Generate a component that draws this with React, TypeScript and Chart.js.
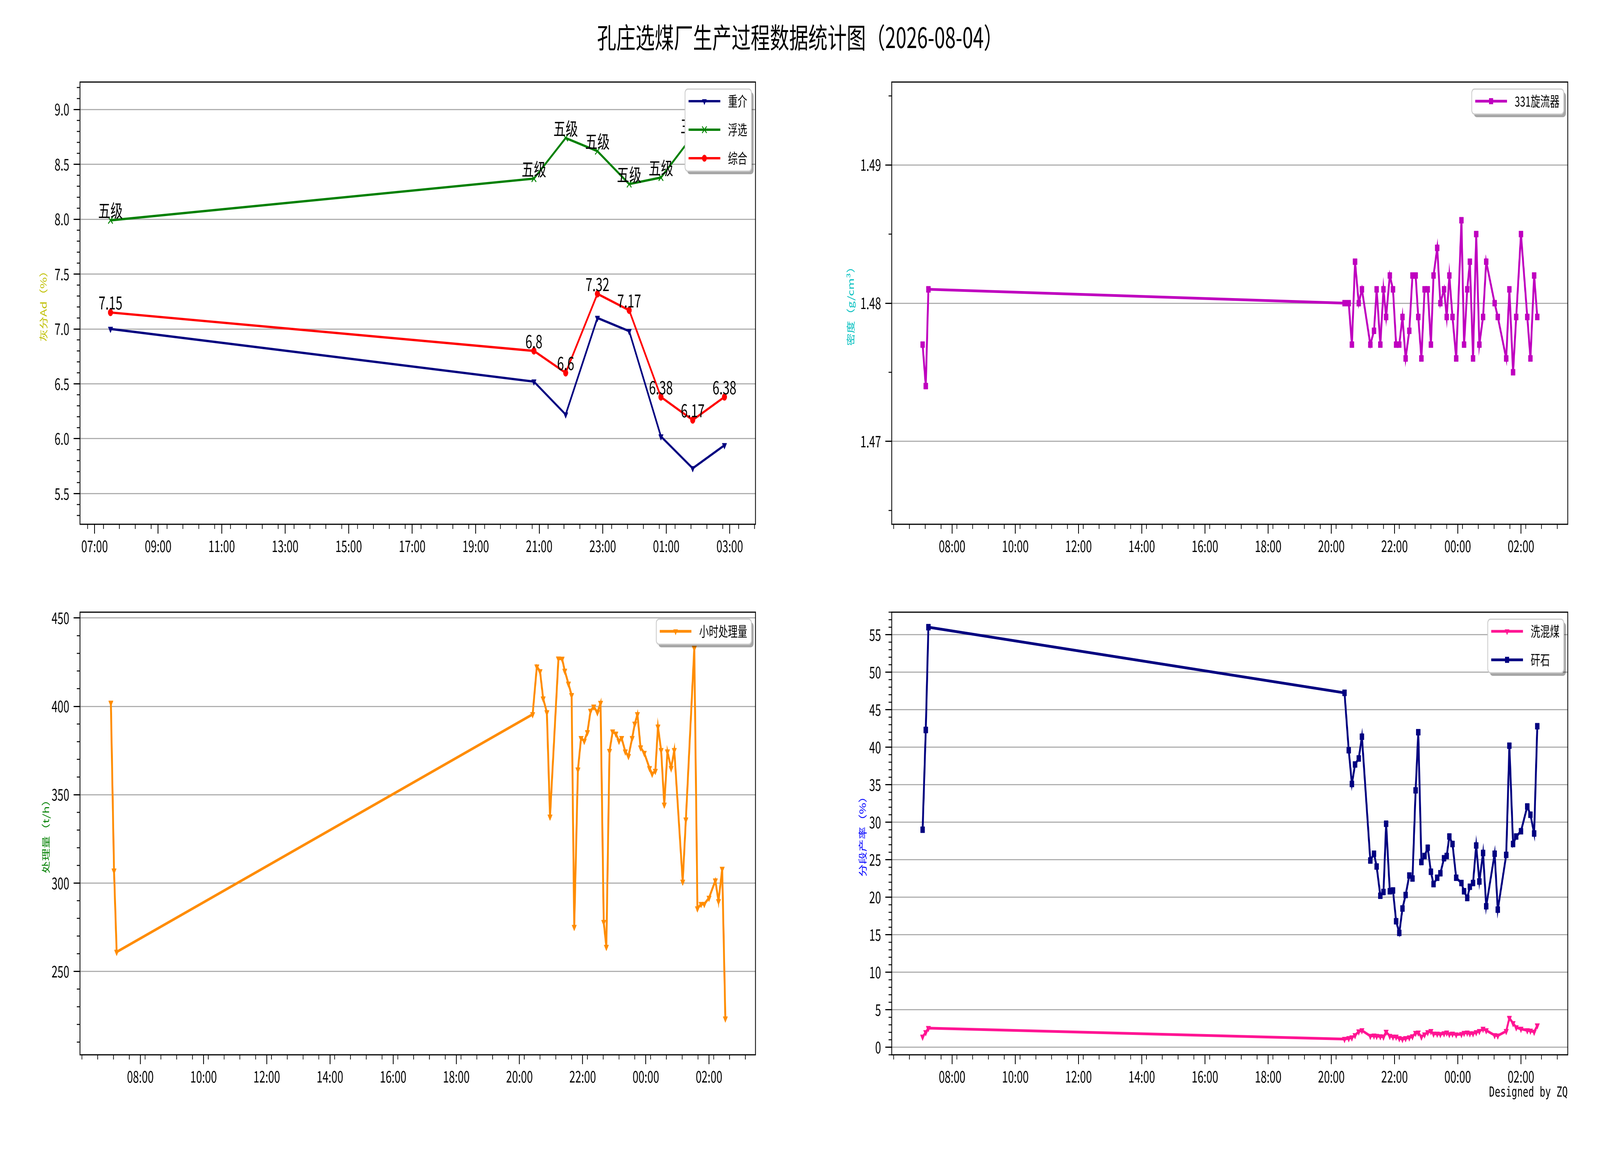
import React, { useEffect, useRef } from 'react';
import { Chart, registerables } from 'chart.js';

Chart.register(...registerables);

const FONT = '"Noto Sans CJK SC", "DejaVu Sans", sans-serif';
const MONO = '"DejaVu Sans Mono", "Liberation Mono", monospace';

const TITLE = '孔庄选煤厂生产过程数据统计图（2026-08-04）';
const CREDIT = 'Designed by ZQ';

// ---------- 灰分 (ash) ----------
const ashTimes = ['07:30', '20:50', '21:50', '22:50', '23:50', '00:50', '01:50', '02:50'];
const heavyMedium = [7.0, 6.52, 6.22, 7.1, 6.98, 6.02, 5.73, 5.94];
const flotation = [7.99, 8.37, 8.74, 8.62, 8.32, 8.38, 8.76, 8.9];
const flotationGrade = ['五级', '五级', '五级', '五级', '五级', '五级', '三级', '三级'];
const combined = [7.15, 6.8, 6.6, 7.32, 7.17, 6.38, 6.17, 6.38];
const ashXTickLabels = ['07:00', '09:00', '11:00', '13:00', '15:00', '17:00', '19:00', '21:00', '23:00', '01:00', '03:00'];
const ashYTicks = [5.5, 6.0, 6.5, 7.0, 7.5, 8.0, 8.5, 9.0];

// ---------- process data (density / throughput / yields) ----------
const processTimes = [
  '07:04', '07:10', '07:15',
  '20:25', '20:33', '20:39', '20:45', '20:52', '20:58',
  '21:14', '21:21', '21:26', '21:33', '21:39', '21:44', '21:51', '21:57',
  '22:03', '22:09', '22:15', '22:21', '22:28', '22:34', '22:40', '22:45', '22:51', '22:57',
  '23:03', '23:09', '23:14', '23:21', '23:27', '23:34', '23:39', '23:44', '23:50', '23:57',
  '00:07', '00:12', '00:18', '00:23', '00:29', '00:35', '00:41', '00:48', '00:54',
  '01:10', '01:16', '01:32', '01:38', '01:45', '01:51',
  '02:00', '02:12', '02:18', '02:25', '02:31',
];
const cycloneDensity = [
  1.477, 1.474, 1.481,
  1.48, 1.48, 1.477, 1.483, 1.48, 1.481,
  1.477, 1.478, 1.481, 1.477, 1.481, 1.479, 1.482, 1.481,
  1.477, 1.477, 1.479, 1.476, 1.478, 1.482, 1.482, 1.479, 1.476, 1.481,
  1.481, 1.477, 1.482, 1.484, 1.48, 1.481, 1.479, 1.482, 1.479, 1.476,
  1.486, 1.477, 1.481, 1.483, 1.476, 1.485, 1.477, 1.479, 1.483,
  1.48, 1.479, 1.476, 1.481, 1.475, 1.479,
  1.485, 1.479, 1.476, 1.482, 1.479,
];
const hourlyThroughput = [
  402, 307, 261,
  395.5, 422.5, 419.8, 404.4, 396.6, 337.5,
  427.0, 426.9, 420.1, 412.8, 406.3, 275.1, 364.2, 382.0,
  380.4, 385.3, 397.4, 399.8, 396.6, 401.9, 277.9, 263.8, 374.7, 385.7,
  384.5, 380.4, 382.0, 374.4, 371.8, 382.0, 390.1, 395.5, 376.7, 373.6,
  365.0, 361.8, 363.4, 388.5, 375.2, 344.3, 374.4, 365.0, 375.2,
  300.7, 335.9, 433.0, 285.6, 288.1, 288.1,
  291.6, 301.4, 289.7, 308.0, 223.3,
];
const middlingsYield = [
  1.4, 2.0, 2.55,
  1.1, 1.2, 1.3, 1.6, 2.1, 2.25,
  1.5, 1.55, 1.5, 1.45, 1.4, 2.05, 1.5, 1.4,
  1.4, 1.2, 1.1, 1.2, 1.3, 1.45, 1.9, 1.95, 1.4, 1.7,
  2.0, 2.15, 1.8, 1.8, 1.75, 1.85, 1.95, 1.75, 1.8, 1.7,
  1.75, 1.9, 1.95, 1.85, 1.85, 2.0, 2.15, 2.45, 2.25,
  1.6, 1.55, 2.15, 3.9, 3.2, 2.65,
  2.45, 2.25, 2.2, 2.05, 2.9,
];
const gangueYield = [
  29.0, 42.3, 56.0,
  47.25, 39.6, 35.1, 37.7, 38.5, 41.4,
  24.9, 25.8, 24.1, 20.2, 20.7, 29.8, 20.8, 20.9,
  16.8, 15.25, 18.5, 20.3, 22.9, 22.5, 34.25, 42.0, 24.7, 25.5,
  26.6, 23.4, 21.75, 22.6, 23.2, 25.2, 25.5, 28.1, 27.1, 22.6,
  21.9, 20.8, 19.9, 21.4, 21.9, 26.9, 22.1, 25.9, 18.8,
  25.8, 18.35, 25.65, 40.2, 27.1, 28.1,
  28.8, 32.1, 31.0, 28.5, 42.8,
];
const processXTickLabels = ['08:00', '10:00', '12:00', '14:00', '16:00', '18:00', '20:00', '22:00', '00:00', '02:00'];
const densityYTicks = [1.47, 1.48, 1.49];
const throughputYTicks = [250, 300, 350, 400, 450];
const yieldYTicks = [0, 5, 10, 15, 20, 25, 30, 35, 40, 45, 50, 55];

// ---------- helpers ----------
function hours(t: string): number {
  const [h, m] = t.split(':').map(Number);
  const v = h + m / 60;
  return v < 6 ? v + 24 : v;
}
function pts(times: string[], values: number[]) {
  return values.map((y, i) => ({ x: hours(times[i]), y }));
}
function hhmm(v: number): string {
  const h = ((Math.round(v) % 24) + 24) % 24;
  return String(h).padStart(2, '0') + ':00';
}
function xMinorTicks(min: number, max: number, offs: number[]): number[] {
  const out: number[] = [];
  for (let h = Math.floor(min); h <= Math.ceil(max); h++) {
    offs.forEach((o) => {
      const v = h + o;
      if (v >= min && v <= max) out.push(v);
    });
  }
  return out;
}
function yMinorTicks(min: number, max: number, step: number, majors: number[]): number[] {
  const out: number[] = [];
  const start = Math.ceil(min / step - 1e-9);
  const end = Math.floor(max / step + 1e-9);
  for (let k = start; k <= end; k++) {
    const v = +(k * step).toFixed(6);
    if (!majors.some((m) => Math.abs(m - v) < step / 10)) out.push(v);
  }
  return out;
}

function drawMarker(ctx: CanvasRenderingContext2D, ds: any, x: number, y: number) {
  const r = ds.pointRadius;
  const c = ds.borderColor;
  ctx.save();
  ctx.fillStyle = c;
  ctx.strokeStyle = c;
  ctx.beginPath();
  if (ds.pointStyle === 'circle') {
    ctx.arc(x, y, r, 0, Math.PI * 2);
    ctx.fill();
  } else if (ds.pointStyle === 'rect') {
    const s = r * Math.SQRT1_2;
    ctx.fillRect(x - s, y - s, 2 * s, 2 * s);
  } else if (ds.pointStyle === 'triangle') {
    ctx.moveTo(x, y + r);
    ctx.lineTo(x - 0.866 * r, y - 0.5 * r);
    ctx.lineTo(x + 0.866 * r, y - 0.5 * r);
    ctx.closePath();
    ctx.fill();
  } else if (ds.pointStyle === 'crossRot') {
    const s = r * Math.SQRT1_2;
    ctx.lineWidth = ds.pointBorderWidth;
    ctx.moveTo(x - s, y - s);
    ctx.lineTo(x + s, y + s);
    ctx.moveTo(x + s, y - s);
    ctx.lineTo(x - s, y + s);
    ctx.stroke();
  }
  ctx.restore();
}

const decor = {
  id: 'decor',
  afterDatasetsDraw(chart: any) {
    const ctx = chart.ctx;
    chart.data.datasets.forEach((ds: any, i: number) => {
      if (!ds.pointLabels) return;
      const meta = chart.getDatasetMeta(i);
      ctx.save();
      ctx.font = `46px ${FONT}`;
      ctx.fillStyle = '#000';
      ctx.textAlign = 'center';
      ctx.textBaseline = 'bottom';
      meta.data.forEach((el: any, j: number) => ctx.fillText(ds.pointLabels[j], el.x, el.y - 2));
      ctx.restore();
    });
  },
  afterDraw(chart: any, _args: any, opts: any) {
    const { ctx, chartArea: a, scales } = chart;
    ctx.save();
    // full frame
    ctx.strokeStyle = '#000';
    ctx.lineWidth = 3;
    ctx.strokeRect(a.left, a.top, a.right - a.left, a.bottom - a.top);
    // minor ticks
    ctx.lineWidth = 2.5;
    ctx.beginPath();
    (opts.xMinors || []).forEach((v: number) => {
      const px = scales.x.getPixelForValue(v);
      ctx.moveTo(px, a.bottom);
      ctx.lineTo(px, a.bottom + 12);
    });
    (opts.yMinors || []).forEach((v: number) => {
      const py = scales.y.getPixelForValue(v);
      ctx.moveTo(a.left - 12, py);
      ctx.lineTo(a.left, py);
    });
    ctx.stroke();
    // legend inside the plot, upper right, with shadow
    const dss = chart.data.datasets;
    ctx.font = `36px ${FONT}`;
    const textW = Math.max(...dss.map((d: any) => ctx.measureText(d.label).width));
    const boxW = textW + 177;
    const boxH = 64 + 73 * (dss.length - 1);
    const boxR = a.right - 15;
    const boxL = boxR - boxW;
    const boxT = a.top + 18;
    const rr = (x: number, y: number, w: number, h: number) => {
      ctx.beginPath();
      if ((ctx as any).roundRect) (ctx as any).roundRect(x, y, w, h, 10);
      else ctx.rect(x, y, w, h);
    };
    rr(boxL + 8, boxT + 8, boxW, boxH);
    ctx.fillStyle = 'rgba(0,0,0,0.35)';
    ctx.fill();
    rr(boxL, boxT, boxW, boxH);
    ctx.fillStyle = '#fff';
    ctx.fill();
    ctx.strokeStyle = '#cccccc';
    ctx.lineWidth = 3;
    ctx.stroke();
    dss.forEach((d: any, i: number) => {
      const y = boxT + 31 + 73 * i;
      ctx.beginPath();
      ctx.strokeStyle = d.borderColor;
      ctx.lineWidth = d.borderWidth;
      ctx.moveTo(boxL + 13, y);
      ctx.lineTo(boxL + 132, y);
      ctx.stroke();
      drawMarker(ctx, d, boxL + 72.5, y);
      ctx.fillStyle = '#000';
      ctx.textAlign = 'left';
      ctx.textBaseline = 'middle';
      ctx.fillText(d.label, boxL + 161, y);
    });
    ctx.restore();
  },
};

function series(label: string, color: string, data: any[], style: string, radius: number, width: number, extra: any = {}) {
  return {
    label,
    data,
    borderColor: color,
    backgroundColor: color,
    borderWidth: width,
    pointStyle: style,
    pointRadius: radius,
    pointRotation: style === 'triangle' ? 180 : 0,
    pointBackgroundColor: color,
    pointBorderColor: color,
    pointBorderWidth: style === 'crossRot' ? 3 : 1,
    fill: false,
    tension: 0,
    ...extra,
  };
}

type PanelOpts = {
  datasets: any[];
  xMin: number;
  xMax: number;
  xTickLabels: string[];
  xMinorOffsets: number[];
  yMin: number;
  yMax: number;
  yTicks: number[];
  yMinorStep: number;
  yDigits: number;
  yTitle: string;
  yTitleColor: string;
  yTitlePad: number;
  top: number;
  bottom: number;
  left: number;
  right: number;
};

function makeConfig(o: PanelOpts): any {
  const xMajors = o.xTickLabels.map(hours);
  return {
    type: 'line',
    data: { datasets: o.datasets },
    plugins: [decor],
    options: {
      responsive: false,
      animation: false,
      devicePixelRatio: 1,
      events: [],
      layout: { padding: { left: 0, top: o.top, right: 3000 - o.right, bottom: 0 } },
      plugins: {
        legend: { display: false },
        tooltip: { enabled: false },
        title: { display: false },
        decor: {
          xMinors: xMinorTicks(o.xMin, o.xMax, o.xMinorOffsets),
          yMinors: yMinorTicks(o.yMin, o.yMax, o.yMinorStep, o.yTicks),
        },
      },
      scales: {
        x: {
          type: 'linear',
          min: o.xMin,
          max: o.xMax,
          afterBuildTicks: (s: any) => {
            s.ticks = xMajors.map((v) => ({ value: v }));
          },
          afterFit: (s: any) => {
            s.height = 1500 - o.bottom;
          },
          ticks: {
            callback: (v: number) => hhmm(v),
            font: { size: 40, family: FONT },
            color: '#000',
            padding: 8,
            maxRotation: 0,
            autoSkip: false,
          },
          grid: { drawOnChartArea: false, tickLength: 24, tickWidth: 3, tickColor: '#000', color: '#000' },
          border: { display: false },
        },
        y: {
          type: 'linear',
          position: 'left',
          min: o.yMin,
          max: o.yMax,
          afterBuildTicks: (s: any) => {
            s.ticks = o.yTicks.map((v) => ({ value: v }));
          },
          afterFit: (s: any) => {
            s.width = o.left;
          },
          ticks: {
            callback: (v: number) => Number(v).toFixed(o.yDigits),
            font: { size: 40, family: FONT },
            color: '#000',
            padding: 16,
            autoSkip: false,
          },
          grid: { color: '#b0b0b0', lineWidth: 3, tickLength: 24, tickWidth: 3, tickColor: '#000' },
          border: { display: false },
          title: {
            display: true,
            text: o.yTitle,
            color: o.yTitleColor,
            font: { size: 32, family: FONT },
            padding: { top: o.yTitlePad, bottom: 0 },
          },
        },
      },
    },
  };
}

const PROC_X = { xMin: 6.09, xMax: 27.48, xTickLabels: processXTickLabels, xMinorOffsets: [0.15, 0.65] };

const panels: { left: number; top: number; opts: PanelOpts }[] = [
  {
    left: 0,
    top: 0,
    opts: {
      datasets: [
        series('重介', '#000080', pts(ashTimes, heavyMedium), 'triangle', 10, 6),
        series('浮选', '#008000', pts(ashTimes, flotation), 'crossRot', 12, 6, { pointLabels: flotationGrade }),
        series('综合', '#ff0000', pts(ashTimes, combined), 'circle', 9, 6, { pointLabels: combined.map(String) }),
      ],
      xMin: 6.54,
      xMax: 27.81,
      xTickLabels: ashXTickLabels,
      xMinorOffsets: [0.28, 0.78],
      yMin: 5.22,
      yMax: 9.25,
      yTicks: ashYTicks,
      yMinorStep: 0.1,
      yDigits: 1,
      yTitle: '灰分Ad（%）',
      yTitleColor: '#bfbf00',
      yTitlePad: 144,
      top: 210,
      bottom: 1342,
      left: 300,
      right: 2833,
    },
  },
  {
    left: 3000,
    top: 0,
    opts: {
      datasets: [series('331旋流器', '#bf00bf', pts(processTimes, cycloneDensity), 'rect', 11, 7)],
      ...PROC_X,
      yMin: 1.464,
      yMax: 1.496,
      yTicks: densityYTicks,
      yMinorStep: 0.005,
      yDigits: 2,
      yTitle: '密度（g/cm³）',
      yTitleColor: '#00bfbf',
      yTitlePad: 171,
      top: 210,
      bottom: 1342,
      left: 344,
      right: 2879,
    },
  },
  {
    left: 0,
    top: 1500,
    opts: {
      datasets: [series('小时处理量', '#ff8c00', pts(processTimes, hourlyThroughput), 'triangle', 10, 7)],
      ...PROC_X,
      xMax: 27.47,
      yMin: 202.8,
      yMax: 453.3,
      yTicks: throughputYTicks,
      yMinorStep: 10,
      yDigits: 0,
      yTitle: '处理量（t/h）',
      yTitleColor: '#008000',
      yTitlePad: 153,
      top: 67,
      bottom: 1200,
      left: 300,
      right: 2833,
    },
  },
  {
    left: 3000,
    top: 1500,
    opts: {
      datasets: [
        series('洗混煤', '#ff1493', pts(processTimes, middlingsYield), 'triangle', 10, 7),
        series('矸石', '#000080', pts(processTimes, gangueYield), 'rect', 11, 7),
      ],
      ...PROC_X,
      yMin: -1.0,
      yMax: 58.0,
      yTicks: yieldYTicks,
      yMinorStep: 1,
      yDigits: 0,
      yTitle: '分段产率（%）',
      yTitleColor: '#0000ff',
      yTitlePad: 216,
      top: 67,
      bottom: 1200,
      left: 344,
      right: 2879,
    },
  },
];

function Panel({ left, top, opts }: { left: number; top: number; opts: PanelOpts }) {
  const ref = useRef<HTMLCanvasElement>(null);
  useEffect(() => {
    const chart = new Chart(ref.current as HTMLCanvasElement, makeConfig(opts));
    return () => chart.destroy();
  }, []);
  return (
    <canvas
      ref={ref}
      width={3000}
      height={1500}
      style={{ position: 'absolute', left, top, width: 3000, height: 1500, display: 'block' }}
    />
  );
}

// The figure is laid out on a 6000x3000 design grid and fitted to the actual viewport.
const FIG_W = 6000;
const FIG_H = 3000;

export default function App() {
  const vw = typeof window !== 'undefined' ? window.innerWidth || FIG_W : FIG_W;
  const vh = typeof window !== 'undefined' ? window.innerHeight || FIG_H : FIG_H;
  const sx = Math.min(1, vw / FIG_W);
  const sy = Math.min(1, vh / FIG_H);
  return (
    <div
      style={{
        position: 'absolute',
        left: 0,
        top: 0,
        width: FIG_W,
        height: FIG_H,
        background: '#fff',
        overflow: 'hidden',
        transform: `scale(${sx}, ${sy})`,
        transformOrigin: '0 0',
      }}
    >
      {panels.map((p, i) => (
        <Panel key={i} left={p.left} top={p.top} opts={p.opts} />
      ))}
      <div
        style={{
          position: 'absolute',
          left: 0,
          top: 56,
          width: FIG_W,
          textAlign: 'center',
          fontFamily: FONT,
          fontSize: 72,
          lineHeight: 1,
          color: '#000',
          whiteSpace: 'nowrap',
        }}
      >
        {TITLE}
      </div>
      <div
        style={{
          position: 'absolute',
          right: FIG_W - 5879,
          top: 2778,
          fontFamily: MONO,
          fontSize: 35,
          lineHeight: 1,
          color: '#000',
          whiteSpace: 'nowrap',
        }}
      >
        {CREDIT}
      </div>
    </div>
  );
}
